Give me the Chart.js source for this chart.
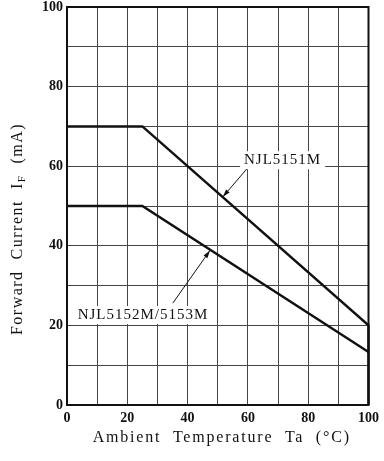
<!DOCTYPE html>
<html>
<head>
<meta charset="utf-8">
<script src="https://cdn.jsdelivr.net/npm/chart.js@4/dist/chart.umd.min.js"></script>
<style>
  html, body { margin: 0; padding: 0; background: #fff; }
  #wrap { width: 384px; height: 461px; position: relative; }
</style>
</head>
<body>
<div id="wrap"><canvas id="derating"></canvas></div>
<script>
// Ambient temperature (°C) and forward current (mA)
const tempNJL5151 = [0, 25, 100, 100];
const currentNJL5151 = [70, 70, 20, 0];
const tempNJL5152 = [0, 25, 100];
const currentNJL5152 = [50, 50, 13.3];

const xTicks = [0, 20, 40, 60, 80, 100];
const yTicks = [0, 20, 40, 60, 80, 100];

const seriesNames = ['NJL5151M', 'NJL5152M/5153M'];

const toPoints = (xs, ys) => xs.map((x, i) => ({ x: x, y: ys[i] }));

// where the part-number labels sit and which point of the curve each arrow hits (data units)
const callouts = [
    { text: seriesNames[0], label: [71.5, 61.5], from: [59.6, 59.3], to: [51.7, 52.3] },
    { text: seriesNames[1], label: [25.2, 22.6], from: [35.1, 25.6], to: [47.4, 38.8] }
];

const serif = '"Liberation Serif", "DejaVu Serif", serif';

const calloutPlugin = {
    id: 'callouts',
    afterDatasetsDraw(chart) {
        const ctx = chart.ctx;
        const xs = chart.scales.x, ys = chart.scales.y;
        const area = chart.chartArea;
        ctx.save();
        // frame round the plot
        ctx.strokeStyle = '#111';
        ctx.lineWidth = 2;
        ctx.strokeRect(area.left, area.top, area.right - area.left, area.bottom - area.top);

        ctx.font = '15px ' + serif;
        ctx.letterSpacing = '1px';
        ctx.textAlign = 'center';
        ctx.textBaseline = 'middle';
        callouts.forEach(c => {
            const lx = xs.getPixelForValue(c.label[0]);
            const ly = ys.getPixelForValue(c.label[1]);
            const w = ctx.measureText(c.text).width;
            ctx.fillStyle = '#fff';
            ctx.fillRect(lx - w / 2 - 4, ly - 9, w + 8, 18);
            ctx.fillStyle = '#111';
            ctx.fillText(c.text, lx, ly);

            const x1 = xs.getPixelForValue(c.from[0]), y1 = ys.getPixelForValue(c.from[1]);
            const x2 = xs.getPixelForValue(c.to[0]), y2 = ys.getPixelForValue(c.to[1]);
            ctx.strokeStyle = '#111';
            ctx.lineWidth = 1;
            ctx.beginPath();
            ctx.moveTo(x1, y1);
            ctx.lineTo(x2, y2);
            ctx.stroke();
            const a = Math.atan2(y2 - y1, x2 - x1);
            ctx.beginPath();
            ctx.moveTo(x2, y2);
            ctx.lineTo(x2 - 8 * Math.cos(a - 0.3), y2 - 8 * Math.sin(a - 0.3));
            ctx.lineTo(x2 - 8 * Math.cos(a + 0.3), y2 - 8 * Math.sin(a + 0.3));
            ctx.closePath();
            ctx.fillStyle = '#111';
            ctx.fill();
        });
        ctx.restore();
    },
    afterDraw(chart) {
        // axis titles drawn by hand: the y title needs a subscript F
        const ctx = chart.ctx;
        const area = chart.chartArea;
        ctx.save();
        ctx.fillStyle = '#111';
        ctx.textBaseline = 'middle';
        ctx.textAlign = 'center';
        ctx.font = '16px ' + serif;
        ctx.letterSpacing = '1.8px';
        ctx.fillText('Ambient  Temperature  Ta  (°C)', (area.left + area.right) / 2 + 4, 438);

        ctx.translate(18, 229);
        ctx.rotate(-Math.PI / 2);
        ctx.letterSpacing = '1.5px';
        const a = 'Forward  Current  I';
        const b = 'F';
        const c = '  (mA)';
        ctx.font = '16px ' + serif;
        const wa = ctx.measureText(a).width, wc = ctx.measureText(c).width;
        ctx.font = '11px ' + serif;
        const wb = ctx.measureText(b).width;
        let x = -(wa + wb + wc) / 2;
        ctx.textAlign = 'left';
        ctx.font = '16px ' + serif;
        ctx.fillText(a, x, 0);
        x += wa;
        ctx.font = '11px ' + serif;
        ctx.fillText(b, x, 4);
        x += wb;
        ctx.font = '16px ' + serif;
        ctx.fillText(c, x, 0);
        ctx.restore();
    }
};

const gridStyle = { color: '#444', lineWidth: 1, drawTicks: false };

new Chart(document.getElementById('derating').getContext('2d'), {
    type: 'line',
    data: {
        datasets: [{
            label: seriesNames[0],
            data: toPoints(tempNJL5151, currentNJL5151),
            borderColor: '#111',
            borderWidth: 2.5,
            pointRadius: 0,
            tension: 0,
            clip: 4
        }, {
            label: seriesNames[1],
            data: toPoints(tempNJL5152, currentNJL5152),
            borderColor: '#111',
            borderWidth: 2.5,
            pointRadius: 0,
            tension: 0,
            clip: 4
        }]
    },
    options: {
        responsive: true,
        maintainAspectRatio: false,
        animation: false,
        layout: { padding: { top: 7, right: 15, left: 0, bottom: 0 } },
        plugins: {
            legend: { display: false },
            tooltip: { enabled: false }
        },
        scales: {
            x: {
                type: 'linear',
                min: 0,
                max: 100,
                grid: gridStyle,
                border: { color: '#111', width: 2 },
                ticks: {
                    stepSize: 10,
                    autoSkip: false,
                    padding: 5,
                    color: '#111',
                    font: { family: serif, size: 14, weight: 'bold' },
                    callback: v => xTicks.includes(v) ? v : ''
                },
                afterFit: scale => { scale.height = 56; }
            },
            y: {
                min: 0,
                max: 100,
                grid: gridStyle,
                border: { color: '#111', width: 2 },
                ticks: {
                    stepSize: 10,
                    autoSkip: false,
                    padding: 4,
                    color: '#111',
                    font: { family: serif, size: 14, weight: 'bold' },
                    callback: v => yTicks.includes(v) ? v : ''
                },
                afterFit: scale => { scale.width = 67; scale.paddingTop = 0; }
            }
        }
    },
    plugins: [calloutPlugin]
});
</script>
</body>
</html>
